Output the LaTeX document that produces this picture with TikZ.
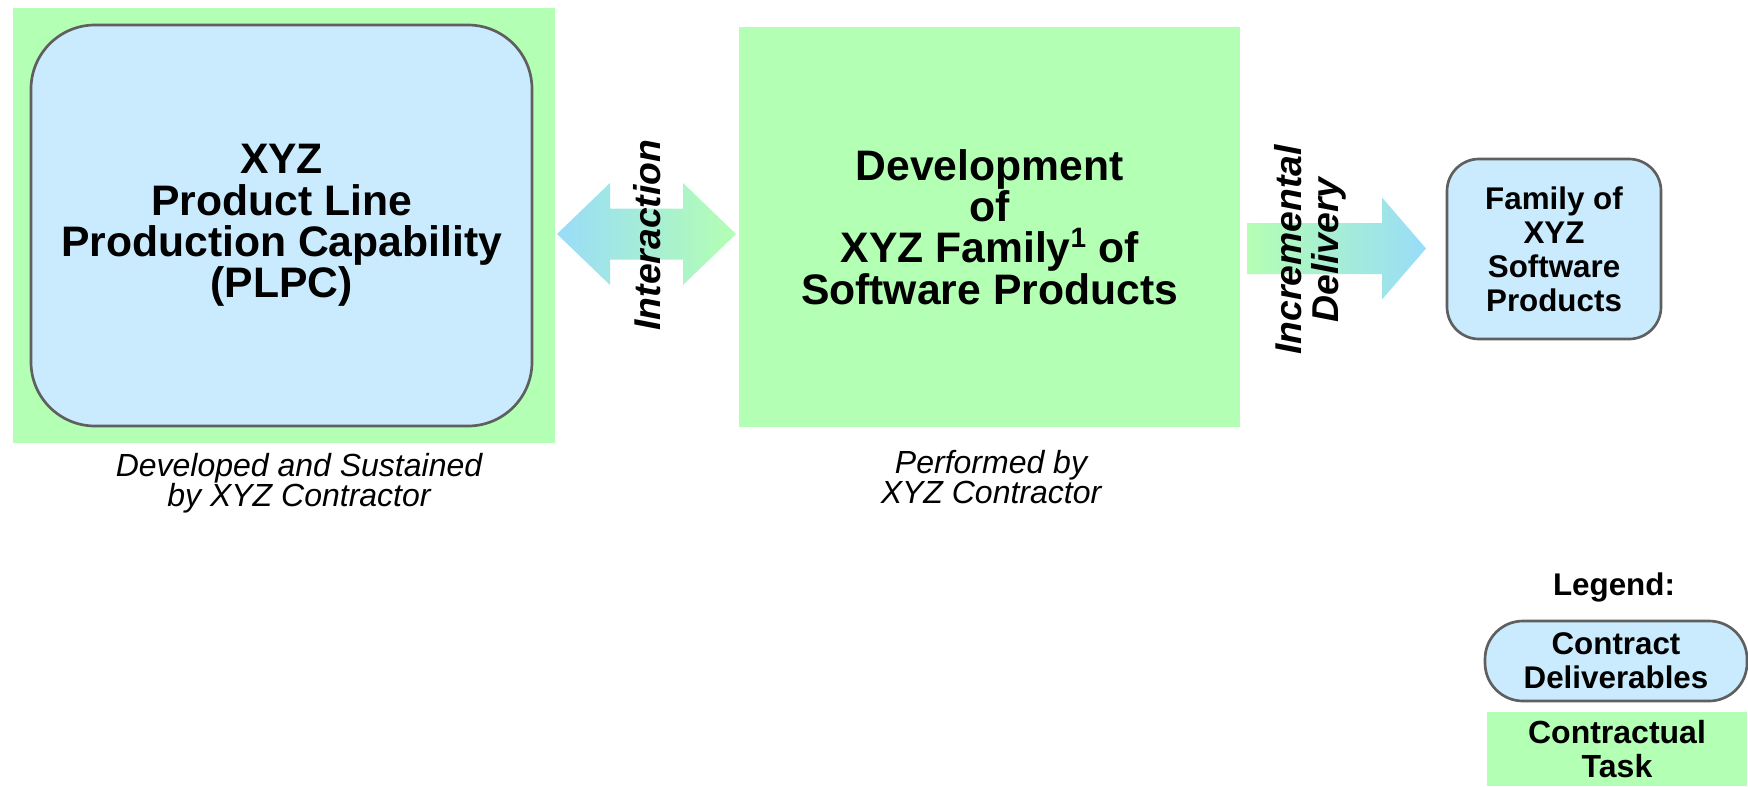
\documentclass[tikz,border=0pt]{standalone}
\usepackage{fontspec}
\setmainfont{Liberation Sans}
\usetikzlibrary{positioning}
\definecolor{taskgreen}{HTML}{B3FFB3}
\definecolor{delivblue}{HTML}{C9EBFD}
\definecolor{arrowblue}{HTML}{99DCF9}
\definecolor{edgegray}{HTML}{5F5F5F}

\begin{document}
\begin{tikzpicture}[x=0.75pt,y=-0.75pt,
    task/.style={fill=taskgreen,inner sep=0pt,align=center},
    deliverable/.style={draw=edgegray,line width=2pt,fill=delivblue,inner sep=0pt,align=center},
    big/.style={font=\fontsize{32}{31}\selectfont\bfseries},
    note/.style={align=center,font=\fontsize{24}{22.5}\selectfont\itshape},
    flow/.style={align=center,rotate=90,font=\fontsize{28}{28}\selectfont\bfseries\itshape}]
  \useasboundingbox (0,0) rectangle (1748,786);

  % contractual tasks
  \node[task,minimum width=406.5pt,minimum height=326.25pt] (tasklpc) at (284,225.5) {};
  \node[deliverable,big,rounded corners=48pt,minimum width=375.75pt,minimum height=300.75pt]
    (plpc) at (281.5,225.5) {XYZ\\Product Line\\Production Capability\\(PLPC)};
  \node[task,big,minimum width=375.75pt,minimum height=300pt] (dev) at (989.5,227)
    {Development\\of\\XYZ Family\raisebox{0.35em}{\fontsize{21}{21}\selectfont 1} of\\Software Products};
  \node[deliverable,rounded corners=24pt,minimum width=160.5pt,minimum height=135pt,
    font=\fontsize{23.5}{25.5}\selectfont\bfseries] (family) at (1554,249)
    {Family of\\XYZ\\Software\\Products};

  \node[note] (devnote) at (299,483) {Developed and Sustained\\by XYZ Contractor};
  \node[note] (perfnote) at (991,477) {Performed by\\XYZ Contractor};

  % block arrows
  \coordinate (ia) at (646.5,234);
  \shade[left color=arrowblue,right color=taskgreen] (ia) ++(-89.5,0) -- ++(53,-51)
    -- ++(0,25.5) -- ++(73,0) -- ++(0,-25.5) -- ++(53,51) -- ++(-53,51)
    -- ++(0,-25.5) -- ++(-73,0) -- ++(0,25.5) -- cycle;
  \coordinate (da) at (1247,248.5);
  \shade[left color=taskgreen,right color=arrowblue] (da) ++(0,-25.5) -- ++(135,0)
    -- ++(0,-25.5) -- ++(44,51) -- ++(-44,51) -- ++(0,-25.5) -- ++(-135,0) -- cycle;
  \node[flow] (inter) at (647,235) {Interaction};
  \node[flow] (incr) at (1310,250) {Incremental\\Delivery};

  % legend
  \node[deliverable,rounded corners=28.5pt,minimum width=196.5pt,minimum height=60pt,
    font=\fontsize{23.5}{25.5}\selectfont\bfseries] (deliv) at (1616,661) {Contract\\Deliverables};
  \node[task,minimum width=195pt,minimum height=55.5pt,
    font=\fontsize{24}{25}\selectfont\bfseries] (ctask) at (1617,749) {Contractual\\Task};
  \node[font=\fontsize{23.5}{25}\selectfont\bfseries] (legend) at (1614,587) {Legend:};
\end{tikzpicture}
\end{document}
